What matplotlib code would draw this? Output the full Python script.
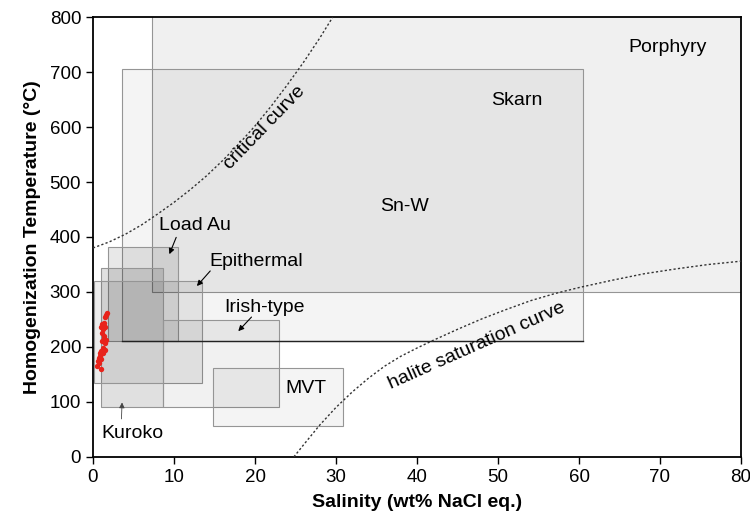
import numpy as np
import matplotlib.pyplot as plt
from matplotlib.patches import Rectangle

plt.rcParams['font.family'] = ['Liberation Sans', 'DejaVu Sans']

# deposit-type fields: salinity range (wt% NaCl eq.) and Th range (deg C)
fields = ['Porphyry', 'Skarn', 'Load Au', 'Kuroko', 'Epithermal', 'Irish-type', 'MVT']
sal_lo = [7.3, 3.6, 1.9, 1.0, 0.1, 8.6, 14.8]
sal_hi = [82.0, 60.5, 10.5, 8.6, 13.5, 23.0, 30.9]
th_lo = [300, 210, 210, 90, 135, 90, 56]
th_hi = [820, 705, 382, 344, 320, 249, 162]
shade = [0.06, 0.045, 0.09, 0.12, 0.07, 0.055, 0.045]

# critical curve and halite saturation curve for NaCl-H2O
crit_sal = [0, 2, 4, 6, 8, 10, 12, 14, 16, 18, 20, 22, 24, 26, 28, 29.6]
crit_th = [380, 391, 405, 422, 442, 463, 486, 511, 539, 569, 602, 638, 677, 718, 762, 800]
hal_sal = [24.8, 26, 28, 30, 32, 34, 36, 38, 40, 42, 45, 48, 51, 54, 57, 60, 64, 68, 72, 76, 80]
hal_th = [0, 22, 58, 90, 118, 143, 165, 183, 198, 212, 232, 251, 268, 284, 297, 308, 321,
          333, 342, 350, 356]

# fluid inclusion measurements
fi_sal = [1.77, 1.6, 1.44, 1.1, 1.36, 0.95, 1.52, 1.2, 1.1, 1.36, 1.36, 1.6, 1.1, 1.44,
          1.27, 1.03, 1.44, 0.86, 1.2, 0.78, 0.62, 0.95, 0.7, 0.53, 1.03, 1.3, 0.9]
fi_th = [261, 258, 254, 242, 238, 237, 236, 232, 225, 220, 216, 213, 210, 208,
         198, 193, 195, 189, 189, 179, 175, 178, 171, 165, 159, 244, 183]

fig, ax = plt.subplots(figsize=(7.5, 5.18), dpi=100)
fig.subplots_adjust(left=0.124, right=0.988, bottom=0.118, top=0.967)

for i in range(len(fields)):
    ax.add_patch(Rectangle((sal_lo[i], th_lo[i]), sal_hi[i] - sal_lo[i], th_hi[i] - th_lo[i],
                           facecolor=(0, 0, 0, shade[i]), edgecolor='#959595', lw=0.8, zorder=1))
# darker base line of the skarn field
ax.plot([sal_lo[1], sal_hi[1]], [th_lo[1], th_lo[1]], color='#222222', lw=1.0, zorder=2)

dots = (0, (1.6, 1.6))
ax.plot(crit_sal, crit_th, ls=dots, color='#333333', lw=1.0, zorder=3)
ax.plot(hal_sal, hal_th, ls=dots, color='#333333', lw=1.0, zorder=3)

ax.scatter(fi_sal, fi_th, s=15, color='#e8231b', zorder=5, linewidths=0)

fs = 14
ax.text(70.9, 744, 'Porphyry', fontsize=fs, ha='center', va='center')
ax.text(52.3, 649, 'Skarn', fontsize=fs, ha='center', va='center')
ax.text(38.4, 456, 'Sn-W', fontsize=fs, ha='center', va='center')
ax.text(12.6, 420, 'Load Au', fontsize=fs, ha='center', va='center')
ax.text(20.2, 356, 'Epithermal', fontsize=fs, ha='center', va='center')
ax.text(21.2, 271, 'Irish-type', fontsize=fs, ha='center', va='center')
ax.text(26.3, 125, 'MVT', fontsize=fs, ha='center', va='center')
ax.text(4.9, 42, 'Kuroko', fontsize=fs, ha='center', va='center')
ax.text(21.2, 598, 'critical curve', fontsize=fs, ha='center', va='center', rotation=46)
ax.text(47.4, 202, 'halite saturation curve', fontsize=fs, ha='center', va='center', rotation=24)

arr = dict(arrowstyle='-|>', color='black', lw=0.8, mutation_scale=8)
ax.annotate('', xy=(9.3, 364), xytext=(10.4, 404), arrowprops=arr)
ax.annotate('', xy=(12.6, 307), xytext=(14.7, 342), arrowprops=arr)
ax.annotate('', xy=(17.7, 225), xytext=(19.8, 258), arrowprops=arr)
ax.annotate('', xy=(3.6, 104), xytext=(3.5, 64),
            arrowprops=dict(arrowstyle='-|>', color='#444444', lw=0.6, mutation_scale=8))

ax.set_xlim(0, 80)
ax.set_ylim(0, 800)
ax.set_xticks(range(0, 81, 10))
ax.set_yticks(range(0, 801, 100))
ax.tick_params(direction='out', length=5, width=1, labelsize=13.5)
for sp in ax.spines.values():
    sp.set_linewidth(1.3)
ax.set_xlabel('Salinity (wt% NaCl eq.)', fontsize=14, fontweight='bold', labelpad=6)
ax.set_ylabel('Homogenization Temperature (°C)', fontsize=14, fontweight='bold', labelpad=6)

fig.savefig('out.png', dpi=100)
